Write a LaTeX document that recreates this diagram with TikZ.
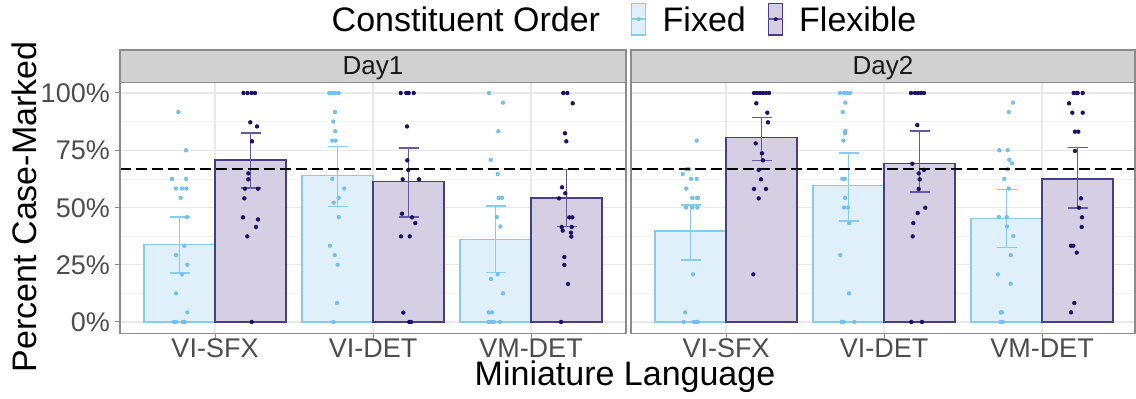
\documentclass[tikz,border=0pt]{standalone}
\usepackage{fontspec}
\setmainfont{Liberation Sans}
\usepackage{tikz}
\definecolor{fixline}{RGB}{135,204,238}
\definecolor{fixfill}{RGB}{224,240,250}
\definecolor{fixdot}{RGB}{118,192,238}
\definecolor{flexline}{RGB}{72,61,139}
\definecolor{flexfill}{RGB}{213,207,228}
\definecolor{flexdot}{RGB}{30,16,100}
\definecolor{stripgray}{RGB}{209,209,209}
\definecolor{framegray}{RGB}{140,140,140}
\definecolor{gridmaj}{RGB}{233,233,233}
\definecolor{gridmin}{RGB}{243,243,243}
\definecolor{ticktext}{RGB}{77,77,77}

\begin{document}
\begin{tikzpicture}[x=1pt,y=1pt]
\tikzset{big/.style={font=\fontsize{34}{40}\selectfont, inner sep=0pt},
  ticklab/.style={font=\fontsize{27}{32}\selectfont, text=ticktext, inner sep=0pt},
  striplab/.style={font=\fontsize{26}{30}\selectfont, text=black!90, inner sep=0pt},
  frame/.style={draw=framegray, line width=1.2pt},
  fixbar/.style={draw=fixline, fill=fixfill, line width=1.3pt},
  flexbar/.style={draw=flexline, fill=flexfill, line width=1.3pt},
  fixerr/.style={draw=fixline, line width=1.5pt},
  flexerr/.style={draw=flexline!85, line width=1.5pt},
  chance/.style={draw=black, line width=1.9pt, dash pattern=on 11pt off 5pt}}
\useasboundingbox (0,0) rectangle (1136,399);

% legend
\node[big, anchor=base west] (legtitle) at (331.5,367) {Constituent Order};
\node[fixbar, minimum width=14pt, minimum height=31.5pt, inner sep=0pt] (keyfix) at (638.7,379.8) {};
\draw[fixerr] (keyfix.west) -- (keyfix.east);
\fill[fixdot] (keyfix.center) circle (2pt);
\node[big, anchor=base west] (labfix) at (662.5,367) {Fixed};
\node[flexbar, minimum width=14pt, minimum height=31.5pt, inner sep=0pt] (keyflex) at (775.8,379.8) {};
\draw[flexerr] (keyflex.west) -- (keyflex.east);
\fill[flexdot] (keyflex.center) circle (2pt);
\node[big, anchor=base west] (labflex) at (799,367) {Flexible};

% panels
\foreach \p/\lft/\rgt/\ca/\cb/\cc in {1/120/626/215/373/531, 2/631/1135/726/884/1042} {
  \fill[white] (\lft,65.7) rectangle (\rgt,316.3);
  \begin{scope}[shift={(0,77)}, y=2.29pt]
    \foreach \v in {12.5,37.5,62.5,87.5} \draw[gridmin, line width=0.6pt] (\lft,\v) -- (\rgt,\v);
    \foreach \v in {0,25,50,75,100} \draw[gridmaj, line width=1.2pt] (\lft,\v) -- (\rgt,\v);
    \foreach \c in {\ca,\cb,\cc} \draw[gridmaj, line width=1.2pt] (\c,-4.93) -- (\c,104.5);
  \end{scope}
  \draw[frame, fill=stripgray] (\lft,316.3) rectangle (\rgt,349);
  \node[striplab, anchor=base] (day\p) at ({(\lft+\rgt)/2},324) {Day\p};
  \foreach \c/\n/\i in {\ca/VI-SFX/1, \cb/VI-DET/2, \cc/VM-DET/3} {
    \draw[framegray, line width=1pt] (\c,65.7) -- (\c,61);
    \node[ticklab, anchor=base] (xlab\p\i) at (\c,41.7) {\n};
  }
}

\begin{scope}[shift={(0,77)}, y=2.29pt]
\foreach \c/\fh/\flo/\fhi/\xh/\xlo/\xhi in {
  215/33.8/21.4/45.9/70.7/58.5/82.5, 373/64.0/50.5/76.6/61.3/45.9/76.0,
  531/35.9/21.7/50.7/54.1/41.6/66.7, 726/39.7/27.1/51.0/80.6/70.6/89.2,
  884/59.5/44.1/73.9/69.1/56.8/83.3, 1042/45.3/32.6/57.8/62.4/49.7/76.1} {
  \draw[fixbar] (\c-71,0) rectangle (\c,\fh);
  \draw[flexbar] (\c,0) rectangle (\c+71,\xh);
  \draw[fixerr] (\c-45.5,\flo) -- (\c-25.5,\flo) (\c-35.5,\flo) -- (\c-35.5,\fhi) (\c-45.5,\fhi) -- (\c-25.5,\fhi);
  \draw[flexerr] (\c+25.5,\xlo) -- (\c+45.5,\xlo) (\c+35.5,\xlo) -- (\c+35.5,\xhi) (\c+25.5,\xhi) -- (\c+45.5,\xhi);
}
\foreach \a/\b in {178.3/91.7, 186/75, 172/62.5, 186/62.5, 176/58.3, 182/58.3, 186.3/58.3, 180.7/54.2,
  187/45.8, 184.3/33.3, 176/29.2, 187.3/25, 182/20.8, 176/12.5, 187.3/4.2, 174/0, 176/0, 182.7/0, 184.7/0,
  329.3/100, 332.3/100, 335/100, 338.7/100, 335/91.7, 333.3/87.5, 335.3/83.3, 332.3/79.2, 335.7/79.2,
  332.3/62.5, 344.3/58.3, 338.7/54.2, 333.7/52.1, 338.7/45.8, 330/33.3, 334.7/29.2, 337.7/25, 337/8.3, 333.3/0,
  489/100, 503/95.8, 498.3/83.3, 490.7/70.8, 497.7/64.6, 498.7/54.2, 502/54.2, 496.7/45.8, 500.3/41.7,
  497.7/20.8, 491/18.8, 503/12.5, 488.7/4.2, 492/4.2, 488.7/0, 491.7/0, 494/0, 500/0,
  696.7/79.2, 682.7/64.6, 686.7/66.7, 689/66.7, 691/62.5, 696.7/62.5, 686.3/58.3, 692.3/54.2, 697/54.2,
  698/54.2, 686/50, 692.3/50, 697.3/50, 693/20.8, 685.3/4.2, 683.7/0, 694/0, 696/0, 697.7/0,
  840/100, 844/100, 847/100, 850/100, 845.3/95.8, 842.7/91.7, 845.3/83.3, 845/82.4, 843.3/79.2, 842.3/62.5,
  844.7/62.5, 845/54.2, 844/50, 848/50, 849.3/43.2, 840.3/29.2, 849/12.5, 841.7/0, 843.7/0, 854.3/0,
  1013/95.8, 1008.7/91.7, 999.3/75, 1007.7/75, 1009.3/70.8, 1012/69.3, 1007.7/66.7, 1004.3/62.5, 1008.7/58.3,
  998.7/45.8, 1006.7/45.8, 1007/41.7, 1013.3/37.5, 1010.7/29.2, 998/20.8, 1010.7/16.7, 1000.7/4.2, 1002/4.2,
  1000.7/0, 1002.7/0}
  \fill[fixdot] (\a,\b) circle (2.2pt);
\foreach \a/\b in {243.5/100, 247.5/100, 251.5/100, 255/100, 250.3/87.2, 257/85.4, 252/78.9, 248.3/64.9,
  248.3/62.3, 245/58.2, 258/58.2, 244.3/54, 243/45.7, 258/44.8, 256/41.5, 247.3/37.4, 251.7/0,
  400.7/100, 406.3/100, 408.7/100, 413.7/100, 407/85.4, 407.3/70.6, 408.3/66.4, 402.7/62.3, 419/62.3,
  402/47.3, 412/45.7, 415.3/43.2, 401/37.4, 409.7/37.4, 403.3/4.1, 409.3/0, 411/0,
  563.3/100, 567.3/100, 572.7/95.5, 565/82.4, 566.3/78.9, 562/58.8, 565.3/56.2, 559/54, 569.3/45.7,
  572.3/45.7, 561.7/41.5, 571.7/41.5, 562.7/39.9, 571/39, 571.3/37.3, 564.3/28.4, 564.3/24.9, 568/16.6, 561/0,
  754/100, 757/100, 760/100, 763/100, 766/100, 769/100, 756.3/95.5, 767.3/91.4, 768/87.2, 755.7/78,
  762/73.7, 763/70.6, 758.7/66.4, 761/62.3, 754/58.1, 766/58.1, 758.7/54, 753.3/20.8,
  911/100, 915/100, 918/100, 921/100, 924/100, 917.3/86, 912.3/69.1, 918.7/64.9, 924/66.4, 919.7/62.3,
  918.7/58.1, 925.3/49.9, 917.7/47.6, 913.3/43.2, 912.7/37.4, 911.3/0, 922/0,
  1073.7/100, 1076.7/100, 1077.7/100, 1082.7/100, 1069/95.5, 1072.3/91.4, 1082.7/91.4, 1075/83.1, 1078.3/83.1,
  1075/74.7, 1081/54, 1079/49.9, 1082/45.7, 1081.7/41.5, 1071/33.3, 1073.3/33.3, 1076.7/30.3, 1074.3/8.3, 1071/4.2}
  \fill[flexdot] (\a,\b) circle (2.2pt);
\draw[chance] (120,66.67) -- (626,66.67);
\draw[chance] (631,66.67) -- (1135,66.67);
\end{scope}

\foreach \lft/\rgt in {120/626, 631/1135} \draw[frame] (\lft,65.7) rectangle (\rgt,316.3);

% axes
\foreach \v in {0,25,50,75,100} {
  \draw[framegray, line width=1pt] (115,77+2.29*\v) -- (120,77+2.29*\v);
  \node[ticklab, anchor=base east] (ytick\v) at (110,77+2.29*\v-9.65) {\v\%};
}
\node[big, rotate=90, anchor=base] (ytitle) at (36.7,192.3) {Percent Case-Marked};
\node[big, anchor=base] (xtitle) at (625,13) {Miniature Language};
\end{tikzpicture}
\end{document}
